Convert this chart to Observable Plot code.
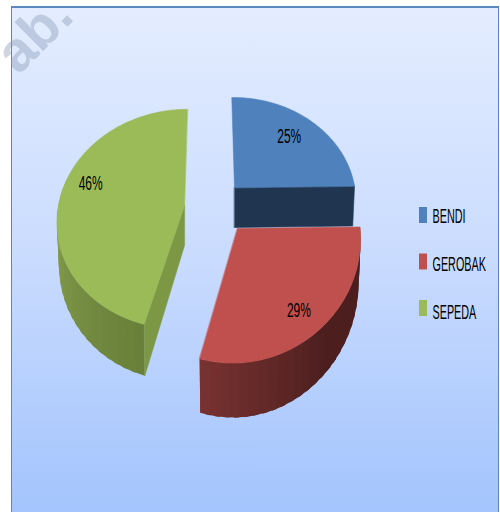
<!DOCTYPE html>
<html>
<head>
<meta charset="utf-8">
<script src="https://cdn.jsdelivr.net/npm/d3@7"></script>
<script src="https://cdn.jsdelivr.net/npm/@observablehq/plot@0.6"></script>
<style>
html,body{margin:0;padding:0;background:#fff;width:500px;height:512px;overflow:hidden}
#frame{position:absolute;left:11px;top:6px;width:488px;height:506px;box-sizing:border-box;border:solid #5b87bf;border-width:2px 1px 0 1px;background:linear-gradient(to bottom,#e4edff 0%,#c9dbfe 50%,#a3c4fd 100%)}
#chart{position:absolute;left:0;top:0}
</style>
</head>
<body>
<div id="frame"></div>
<div id="chart"></div>
<script>
const categories = ["BENDI", "GEROBAK", "SEPEDA"];
const shares = [25, 29, 46];
const topColors = ["#4f81bd", "#c0504d", "#9bbb59"];
const watermark = "ab.";

// Perspective pie geometry, one entry per slice
const layout = [
  {cx:234, cy:187, R:120, Rt:101, depth:40, sx:0.03, sxFront:0, sy:-0.012, f:0.72, ldx:0, ldy:-3},
  {cx:237, cy:228, R:122.5, Rt:118, depth:42, sx:0, sxFront:-0.025, sy:-0.012, f:0.75, ldx:1, ldy:5},
  {cx:184, cy:205, R:126, Rt:108, depth:40, sx:-0.03, sxFront:-0.04, sy:0, f:0.74, ldx:-3, ldy:-12}
];
const p = 0.123;
const rad = d => d * Math.PI / 180;
const kOf = t => 1 / (1 + p * Math.cos(t));
function upper(l, t, f = 1) {
  const k = kOf(t);
  const dx = l.R * Math.sin(t) * k * f, dy = -l.Rt * Math.cos(t) * k * f;
  return {x: l.cx + dx + (dy > 0 ? l.sxFront : l.sx) * dy, y: l.cy + dy + l.sy * dx};
}
function lower(l, t) {
  const q = upper(l, t), k = kOf(t);
  return {x: l.cx + (q.x - l.cx) * 0.985, y: q.y + l.depth * k * k};
}
let a = 0;
const arcs = shares.map(v => { const s = a; a += v / d3.sum(shares) * 360; return [s, a]; });
const rings = [];
let nid = 0;
function poly(points, color, edge) { const id = nid++; points.forEach(q => rings.push({...q, id, color, edge})); }
function topFace(i) {
  const l = layout[i], [s, e] = arcs[i], pts = [{x:l.cx, y:l.cy}];
  for (const d of d3.range(s, e, 1)) pts.push(upper(l, rad(d)));
  pts.push(upper(l, rad(e)));
  poly(pts, topColors[i], topColors[i]);
}
function sideStrips(i, from, to, colorAt) {
  const l = layout[i], step = 4;
  // painted in order, each strip running under the next so no seams show
  for (let d = from; d < to; d += step) {
    const t0 = rad(d), t1 = rad(Math.min(d + step * 1.5, to));
    poly([upper(l,t0), upper(l,t1), lower(l,t1), lower(l,t0)], colorAt((d - from) / (to - from)), "none");
  }
}
function cutFace(i, deg, color) {
  const l = layout[i], t = rad(deg), d0 = {x:l.cx, y:l.cy + l.depth};
  poly([{x:l.cx, y:l.cy}, upper(l,t), lower(l,t), d0], color, color);
}
// blue: cut face only
cutFace(0, arcs[0][1], "#1f3550");
topFace(0);
// green
sideStrips(2, arcs[2][0], 285, u => d3.interpolateRgb("#688039", "#8ca652")(u));
cutFace(2, arcs[2][0], "#7c9845");
topFace(2);
// red
sideStrips(1, arcs[1][0], arcs[1][1], u => u < 0.45 ? "#4c1f1e" : d3.interpolateRgb("#4c1f1e", "#7a3331")((u - 0.45) / 0.55));
topFace(1);

const labels = shares.map((v, i) => {
  const l = layout[i], q = upper(l, rad((arcs[i][0] + arcs[i][1]) / 2), l.f);
  return {x: q.x + l.ldx, y: q.y + l.ldy, text: v + "%"};
});
const legend = categories.map((c, i) => ({name: c, color: topColors[i], row: i}));
const swatchY = r => 215 + 46.5 * r;
const legendY = r => 216 + 48 * r;

function squeeze(sx) {
  return (index, scales, values, dims, ctx, next) => {
    const g = next(index, scales, values, dims, ctx);
    d3.select(g).selectAll("text").attr("transform", function () {
      return (this.getAttribute("transform") || "") + ` scale(${sx},1)`;
    });
    return g;
  };
}
const textFont = "'Liberation Sans', sans-serif";
const chart = Plot.plot({
  width: 500, height: 512, margin: 0,
  style: {background: "transparent"},
  x: {domain: [0, 500], range: [0, 500], axis: null},
  y: {domain: [0, 512], range: [0, 512], axis: null},
  marks: [
    Plot.text([watermark], {x: () => 34, y: () => 34, text: d => d, rotate: -45, fontSize: 56, fontWeight: "bold", fill: "#8a9bb5", fillOpacity: 0.42, fontFamily: textFont}),
    Plot.line(rings, {x: "x", y: "y", z: "id", fill: "color", stroke: "edge", strokeWidth: 0.6, curve: "linear-closed"}),
    Plot.text(labels, {x: "x", y: "y", text: "text", fontSize: 20, fill: "#000", fontFamily: textFont, render: squeeze(0.6)}),
    Plot.rect(legend, {x1: () => 419, x2: () => 427, y1: d => swatchY(d.row) - 8, y2: d => swatchY(d.row) + 8, fill: "color"}),
    Plot.text(legend, {x: () => 432, y: d => legendY(d.row), text: "name", textAnchor: "start", fontSize: 20, fill: "#000", fontFamily: textFont, render: squeeze(0.54)})
  ]
});
document.getElementById("chart").appendChild(chart);
</script>
</body>
</html>
